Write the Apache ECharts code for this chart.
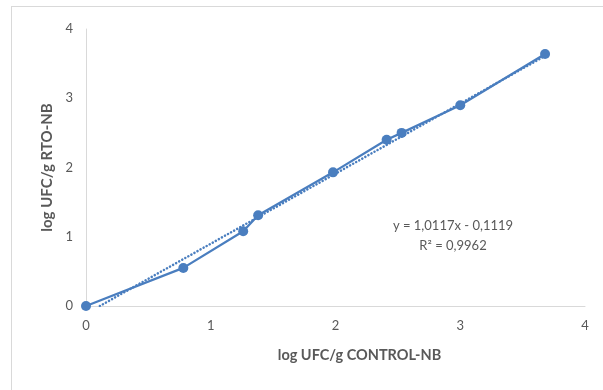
<!DOCTYPE html>
<html>
<head>
<meta charset="utf-8">
<script src="https://cdn.jsdelivr.net/npm/echarts@6/dist/echarts.min.js"></script>
<style>
  html, body { margin: 0; padding: 0; background: #fff; }
  #chart { width: 603px; height: 390px; }
  #frame { position: absolute; left: 11px; top: 6px; width: 600px; height: 400px; border: 1px solid #d9d9d9; box-sizing: border-box; pointer-events: none; }
</style>
</head>
<body>
<div id="chart"></div>
<div id="frame"></div>
<script>
// log UFC/g measured by the reference method (CONTROL-NB)
const controlNB = [0, 0.78, 1.26, 1.38, 1.98, 2.41, 2.53, 3.00, 3.68];
// log UFC/g measured by the alternative method (RTO-NB)
const rtoNB = [0, 0.55, 1.08, 1.31, 1.93, 2.40, 2.50, 2.90, 3.64];

// linear fit reported on the chart
const slope = 1.0117;
const intercept = -0.1119;
const r2 = 0.9962;

const axisTicks = [0, 1, 2, 3, 4];

const fmt = (v, d) => v.toFixed(d).replace('.', ',');
const eqText = 'y = ' + fmt(slope, 4) + 'x - ' + fmt(-intercept, 4);
const r2Text = 'R\u00b2 = ' + fmt(r2, 4);

const points = controlNB.map((x, i) => [x, rtoNB[i]]);
// trend line drawn across the data range, starting where it crosses y = 0
const xStart = -intercept / slope;
const xEnd = controlNB[controlNB.length - 1];
const trend = [[xStart, slope * xStart + intercept], [xEnd, slope * xEnd + intercept]];

const blue = '#4a7ebf';
const textColor = '#595959';
const font = 'Lato, "Open Sans", sans-serif';

const chart = echarts.init(document.getElementById('chart'), null, { renderer: 'canvas' });
chart.setOption({
  animation: false,
  textStyle: { fontFamily: font },
  grid: { left: 86, right: 18, top: 29, bottom: 84, containLabel: false },
  xAxis: {
    type: 'value', min: axisTicks[0], max: axisTicks[axisTicks.length - 1], interval: 1,
    name: 'log UFC/g CONTROL-NB', nameLocation: 'middle', nameGap: 42,
    nameTextStyle: { color: textColor, fontSize: 14.5, fontWeight: 'bold', fontFamily: font, padding: [0, 0, 0, 48] },
    axisLine: { show: true, lineStyle: { color: '#d9d9d9', width: 1 } },
    axisTick: { show: false },
    splitLine: { show: false },
    axisLabel: { color: textColor, fontSize: 13, margin: 13, fontFamily: font }
  },
  yAxis: {
    type: 'value', min: axisTicks[0], max: axisTicks[axisTicks.length - 1], interval: 1,
    name: 'log UFC/g RTO-NB', nameLocation: 'middle', nameGap: 26,
    nameTextStyle: { color: textColor, fontSize: 15, fontWeight: 'bold', fontFamily: font },
    axisLine: { show: true, lineStyle: { color: '#d9d9d9', width: 1 } },
    axisTick: { show: false },
    splitLine: { show: false },
    axisLabel: { color: textColor, fontSize: 13, margin: 13, fontFamily: font }
  },
  series: [
    {
      name: 'trend', type: 'line', data: trend, showSymbol: false, symbol: 'none',
      lineStyle: { color: blue, width: 2.5, type: [0.1, 3.4], cap: 'round' }, z: 2, silent: true
    },
    {
      name: 'RTO-NB', type: 'line', data: points, symbol: 'circle', symbolSize: 10,
      itemStyle: { color: blue }, lineStyle: { color: blue, width: 2.25 }, z: 3
    }
  ],
  graphic: [
    {
      type: 'text', x: 453, y: 216,
      style: { text: eqText + '\n' + r2Text, fill: textColor, font: '13px ' + font, align: 'center', verticalAlign: 'top', lineHeight: 20 }
    }
  ]
});
</script>
</body>
</html>
